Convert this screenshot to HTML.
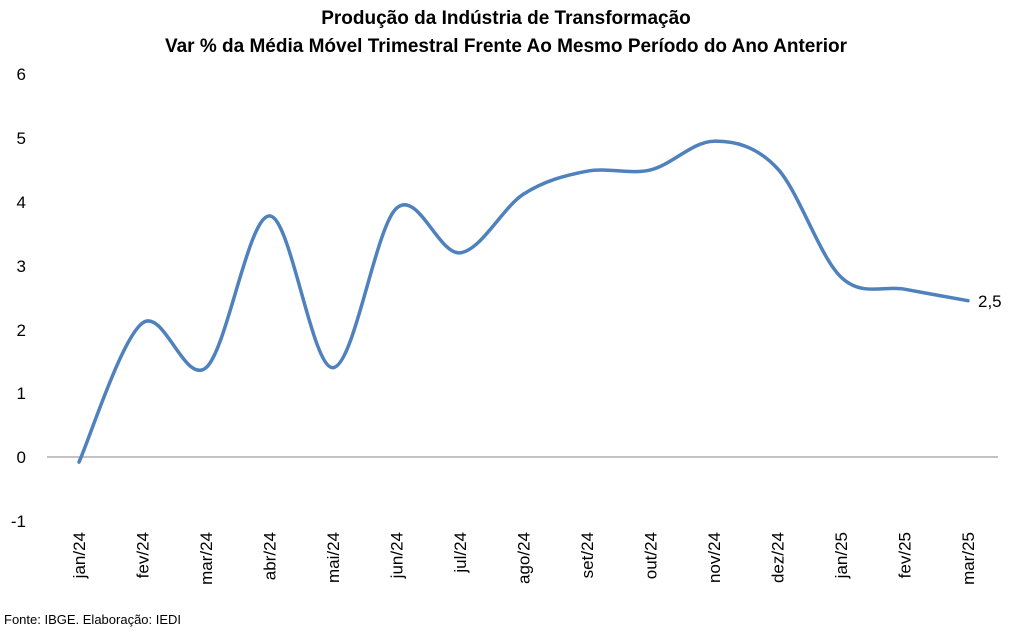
<!DOCTYPE html>
<html><head><meta charset="utf-8"><style>
body{margin:0;background:#fff;}
svg{display:block;font-family:"Liberation Sans",sans-serif;}
</style></head><body>
<svg id="s" width="1013" height="632" xmlns="http://www.w3.org/2000/svg">
<text x="506" y="24" text-anchor="middle" font-size="19" font-weight="bold" fill="#000">Produção da Indústria de Transformação</text>
<text x="506" y="52" text-anchor="middle" font-size="19" font-weight="bold" fill="#000">Var % da Média Móvel Trimestral Frente Ao Mesmo Período do Ano Anterior</text>
<g font-size="17" fill="#000" text-anchor="end">
<text x="26" y="80">6</text><text x="26" y="144">5</text><text x="26" y="208">4</text><text x="26" y="272">3</text><text x="26" y="336">2</text><text x="26" y="399">1</text><text x="26" y="463">0</text><text x="26" y="527">-1</text>
</g>
<line x1="47" y1="457" x2="998" y2="457" stroke="#868686" stroke-width="1"/>
<g id="lab" font-size="17" fill="#000" text-anchor="end"></g>
<path id="p" fill="none" stroke="#4f81bd" stroke-width="3.5" stroke-linecap="round"/>
<text x="978" y="307" font-size="17" fill="#000">2,5</text>
<text x="4" y="624" font-size="13" fill="#000">Fonte: IBGE. Elaboração: IEDI</text>
</svg>
<script>
var labs=["jan/24","fev/24","mar/24","abr/24","mai/24","jun/24","jul/24","ago/24","set/24","out/24","nov/24","dez/24","jan/25","fev/25","mar/25"];
var v=[-0.08,2.1,1.4,3.78,1.4,3.9,3.2,4.12,4.48,4.5,4.95,4.52,2.82,2.63,2.45];
var ns="http://www.w3.org/2000/svg",g=document.getElementById("lab");
var P=[];
for(var i=0;i<15;i++){var x=79+i*63.5;P.push([x,457-v[i]*63.8]);
var t=document.createElementNS(ns,"text");t.setAttribute("transform","translate("+(x+6)+",532) rotate(-90)");t.textContent=labs[i];g.appendChild(t);}
var d="M"+P[0][0]+","+P[0][1];
for(var i=0;i<14;i++){var p0=P[Math.max(i-1,0)],p1=P[i],p2=P[i+1],p3=P[Math.min(i+2,14)];
d+=" C"+(p1[0]+(p2[0]-p0[0])/6)+","+(p1[1]+(p2[1]-p0[1])/6)+" "+(p2[0]-(p3[0]-p1[0])/6)+","+(p2[1]-(p3[1]-p1[1])/6)+" "+p2[0]+","+p2[1];}
document.getElementById("p").setAttribute("d",d);
</script>
</body></html>
